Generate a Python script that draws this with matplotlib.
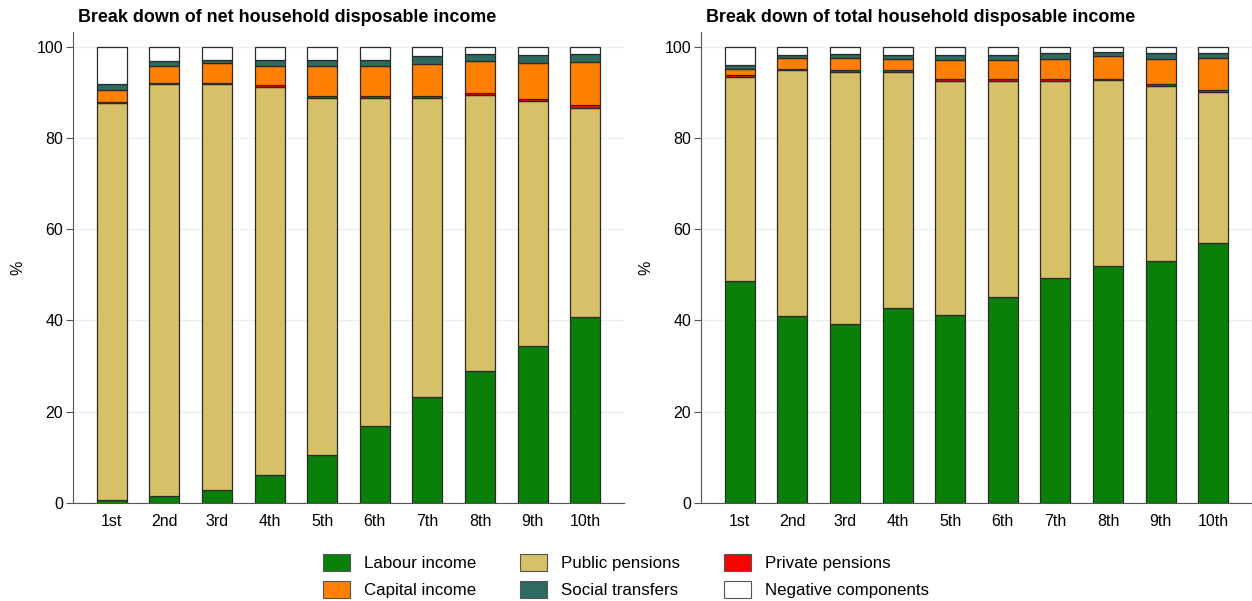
import numpy as np
import matplotlib
matplotlib.use('Agg')
import matplotlib.pyplot as plt
from matplotlib.patches import Patch

plt.rcParams['font.family'] = ['Liberation Sans', 'DejaVu Sans']

deciles = ['1st', '2nd', '3rd', '4th', '5th', '6th', '7th', '8th', '9th', '10th']

# net household disposable income (shares, %)
net_labour = [0.6, 1.6, 2.8, 6.2, 10.6, 16.9, 23.3, 28.9, 34.4, 40.7]
net_public = [87.0, 90.1, 88.9, 85.0, 78.2, 71.9, 65.5, 60.5, 53.7, 45.9]
net_private = [0.3, 0.3, 0.3, 0.3, 0.3, 0.3, 0.4, 0.4, 0.4, 0.5]
net_capital = [2.7, 3.8, 4.3, 4.3, 6.7, 6.7, 6.9, 7.1, 7.9, 9.6]
net_social = [1.2, 1.1, 0.8, 1.2, 1.3, 1.3, 1.8, 1.4, 1.7, 1.7]
net_negative = [8.2, 3.1, 2.9, 3.0, 2.9, 2.9, 2.1, 1.7, 1.9, 1.6]

# total household disposable income (shares, %)
tot_labour = [48.7, 41.0, 39.3, 42.8, 41.3, 45.2, 49.4, 52.0, 53.1, 56.9]
tot_public = [44.7, 53.9, 55.2, 51.7, 51.2, 47.3, 43.1, 40.6, 38.3, 33.2]
tot_private = [0.3, 0.3, 0.3, 0.3, 0.3, 0.3, 0.4, 0.4, 0.4, 0.4]
tot_capital = [1.5, 2.3, 2.7, 2.4, 4.3, 4.3, 4.3, 4.9, 5.5, 6.9]
tot_social = [0.8, 0.7, 0.9, 1.0, 1.1, 1.1, 1.3, 0.9, 1.4, 1.3]
tot_negative = [4.0, 1.8, 1.6, 1.8, 1.8, 1.8, 1.5, 1.2, 1.3, 1.3]

names = ['Labour income', 'Public pensions', 'Private pensions',
         'Capital income', 'Social transfers', 'Negative components']
colors = ['#0a800a', '#d6c168', '#ff0000', '#ff8000', '#2e6a62', '#ffffff']

panels = [
    ('Break down of net household disposable income',
     [net_labour, net_public, net_private, net_capital, net_social, net_negative]),
    ('Break down of total household disposable income',
     [tot_labour, tot_public, tot_private, tot_capital, tot_social, tot_negative]),
]

W, H = 1252, 601
fig = plt.figure(figsize=(W / 100, H / 100), dpi=100)
lefts = [73, 701]
x = np.arange(len(deciles))

for (title, series), l in zip(panels, lefts):
    ax = fig.add_axes([l / W, 1 - 503 / H, 551 / W, (503 - 32) / H])
    bottom = np.zeros(len(deciles))
    for vals, c in zip(series, colors):
        ax.bar(x, vals, 0.57, bottom=bottom, color=c, edgecolor='#2b2b2b',
               linewidth=0.9, zorder=3)
        bottom += np.array(vals)
    ax.set_xlim(-0.74, 9.74)
    ax.set_ylim(0, 103.2)
    ax.set_yticks([0, 20, 40, 60, 80, 100])
    ax.yaxis.grid(True, color='#e8eef2', linewidth=1, zorder=0)
    ax.set_xticks(x)
    ax.set_xticklabels(deciles, fontsize=11.5)
    ax.tick_params(axis='x', length=0, pad=8)
    ax.tick_params(axis='y', labelsize=11.5, length=5, color='#555555', pad=2)
    for s in ['top', 'right']:
        ax.spines[s].set_visible(False)
    ax.spines['left'].set_color('#555555')
    ax.spines['bottom'].set_color('#555555')
    ax.set_ylabel('%', fontsize=11.5, labelpad=8)
    fig.text((l + 5) / W, 1 - 18 / H, title, fontsize=12.9,
             fontweight='bold', ha='left', va='center')

handles = [Patch(facecolor=c, edgecolor='#555555', linewidth=0.8) for c in colors]
order = [0, 3, 1, 4, 2, 5]
fig.legend([handles[i] for i in order], [names[i] for i in order],
           loc='center', bbox_to_anchor=(0.5, 1 - 576 / H), ncol=3,
           frameon=False, fontsize=12.2, handlelength=1.6, handleheight=1.2,
           handletextpad=0.8, columnspacing=2.6, labelspacing=0.55)

plt.savefig('out.png', dpi=100)
